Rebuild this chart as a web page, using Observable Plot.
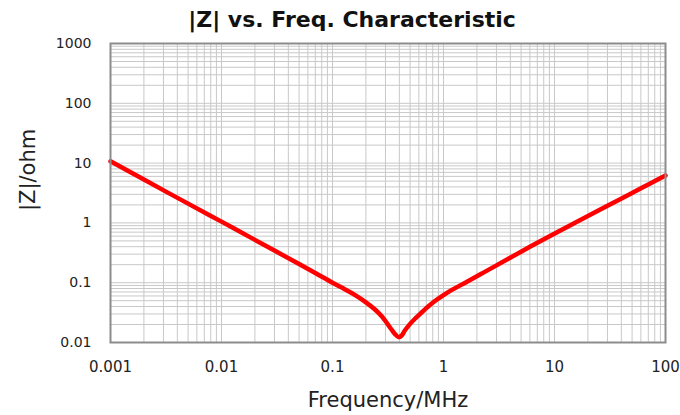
<!DOCTYPE html>
<html>
<head>
<meta charset="utf-8">
<script src="https://cdn.jsdelivr.net/npm/d3@7"></script>
<script src="https://cdn.jsdelivr.net/npm/@observablehq/plot@0.6"></script>
<style>
  body { margin: 0; background: #fff; }
  #title { height: 34px; font: bold 22px "DejaVu Sans", sans-serif; line-height: 40px; text-align: center; padding-left: 24px; color: #111; box-sizing: border-box; width: 680px; white-space: nowrap; }
  #chart svg { display: block; }
</style>
</head>
<body>
<div id="title">|Z| vs. Freq. Characteristic</div>
<div id="chart"></div>
<script>
const freqMHz = [0.001, 0.002, 0.005, 0.01, 0.02, 0.05, 0.07, 0.1, 0.13, 0.16, 0.2, 0.24, 0.28, 0.31, 0.34, 0.37, 0.395, 0.42, 0.45, 0.5, 0.56, 0.62, 0.7, 0.82, 1.0, 1.2, 1.6, 2.15, 3, 5, 7, 11.3, 20, 30, 50, 70, 100];
const impedanceOhm = [10.7, 5.3, 2.1, 1.05, 0.52, 0.205, 0.145, 0.1, 0.077, 0.062, 0.047, 0.036, 0.027, 0.021, 0.0165, 0.0135, 0.0123, 0.0131, 0.016, 0.0205, 0.0255, 0.0305, 0.0375, 0.048, 0.062, 0.0765, 0.102, 0.138, 0.195, 0.33, 0.465, 0.745, 1.3, 1.93, 3.15, 4.4, 6.2];

const xTickValues = [0.001, 0.01, 0.1, 1, 10, 100];
const xTickLabels = ["0.001", "0.01", "0.1", "1", "10", "100"];
const yTickValues = [0.01, 0.1, 1, 10, 100, 1000];
const yTickLabels = ["0.01", "0.1", "1", "10", "100", "1000"];
const gridMultipliers = [1, 2, 3, 4, 5, 6, 7, 8, 9];

const data = freqMHz.map((f, i) => ({f, z: impedanceOhm[i]}));
const xGrid = xTickValues.slice(0, -1).flatMap(d => gridMultipliers.map(m => d * m)).concat([100]);
const yGrid = yTickValues.slice(0, -1).flatMap(d => gridMultipliers.map(m => d * m)).concat([1000]);

const chart = Plot.plot({
  width: 680,
  height: 381,
  marginTop: 9,
  marginBottom: 73,
  marginLeft: 110,
  marginRight: 15,
  style: {fontFamily: "DejaVu Sans, sans-serif", color: "#222", background: "#fff"},
  x: {type: "log", domain: [0.001, 100]},
  y: {type: "log", domain: [0.01, 1000]},
  marks: [
    Plot.ruleX(xGrid, {stroke: "#c8c8c8", strokeWidth: 1}),
    Plot.ruleY(yGrid, {stroke: "#c8c8c8", strokeWidth: 1}),
    Plot.axisX(xTickValues, {tickSize: 0, tickPadding: 19, fontSize: 15, tickFormat: (d) => xTickLabels[xTickValues.indexOf(d)], label: null}),
    Plot.axisY(yTickValues, {tickSize: 0, tickPadding: 19, fontSize: 14, tickFormat: (d) => yTickLabels[yTickValues.indexOf(d)], label: null}),
    Plot.line(data, {x: "f", y: "z", stroke: "#ff0000", strokeWidth: 4.5, curve: "catmull-rom"}),
    Plot.frame({stroke: "#8c8c8c", strokeWidth: 2}),
    Plot.text(["Frequency/MHz"], {frameAnchor: "bottom", dy: 64, fontSize: 21, fill: "#222"}),
    Plot.text(["|Z|/ohm"], {frameAnchor: "left", dx: -82, dy: 18, rotate: -90, fontSize: 21, fill: "#222"})
  ]
});
document.getElementById("chart").appendChild(chart);
</script>
</body>
</html>
